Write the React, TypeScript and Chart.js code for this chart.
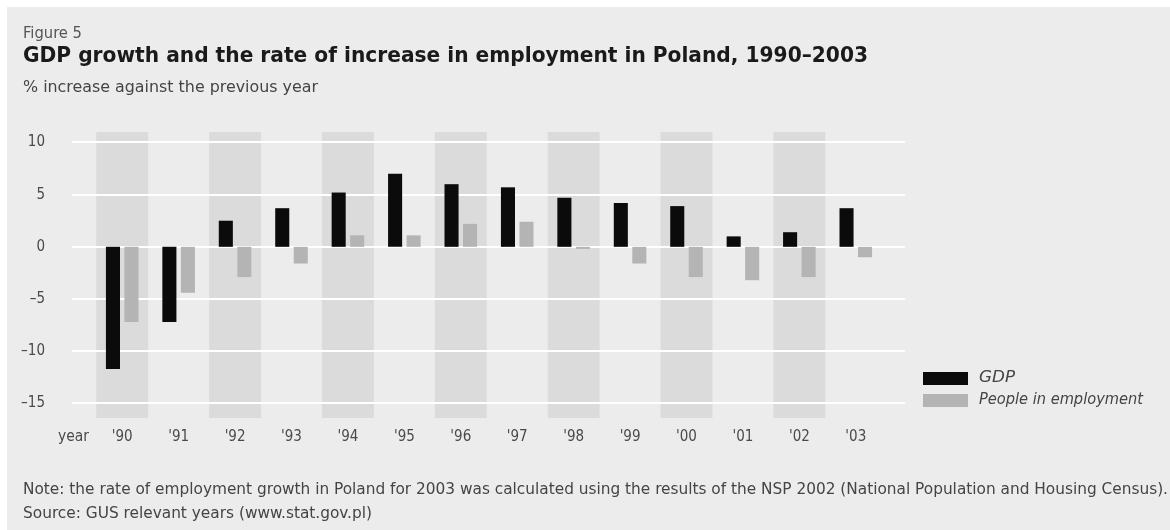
import React, { useEffect, useLayoutEffect, useRef } from 'react';
import { Chart, registerables } from 'chart.js';

Chart.register(...registerables);

const categories = ["'90", "'91", "'92", "'93", "'94", "'95", "'96", "'97", "'98", "'99", "'00", "'01", "'02", "'03"];
const gdpValues = [-11.7, -7.2, 2.5, 3.7, 5.2, 7.0, 6.0, 5.7, 4.7, 4.2, 3.9, 1.0, 1.4, 3.7];
const employmentValues = [-7.2, -4.4, -2.9, -1.6, 1.1, 1.1, 2.2, 2.4, -0.2, -1.6, -2.9, -3.2, -2.9, -1.0];
const yTickValues = [-15, -10, -5, 0, 5, 10];
const seriesLabels = ['GDP', 'People in employment'];
const seriesColors = ['#0b0b0b', '#b4b4b4'];

const FONT = "'DejaVu Sans Condensed', 'Liberation Sans Narrow', 'Arial Narrow', sans-serif";

const backdropPlugin = {
  id: 'backdrop',
  beforeDatasetsDraw(chart: any) {
    const { ctx, chartArea, scales } = chart;
    const x = scales.x;
    const y = scales.y;
    const step = x.getPixelForValue(1) - x.getPixelForValue(0);
    ctx.save();
    ctx.fillStyle = '#dbdbdb';
    categories.forEach((_, i) => {
      if (i % 2 !== 0) return;
      const cx = x.getPixelForValue(i);
      const w = step * 0.92;
      ctx.fillRect(cx - w / 2, chartArea.top, w, chartArea.bottom - chartArea.top);
    });
    ctx.strokeStyle = '#ffffff';
    ctx.lineWidth = 2;
    yTickValues.forEach((v) => {
      const py = Math.round(y.getPixelForValue(v));
      ctx.beginPath();
      ctx.moveTo(chartArea.left - step * 0.39, py);
      ctx.lineTo(chartArea.right + step * 0.37, py);
      ctx.stroke();
    });
    ctx.restore();
  },
};

function FitText(props: { text: string; left: number; top: number; width: number; style?: any }) {
  const ref = useRef<HTMLSpanElement>(null);
  useLayoutEffect(() => {
    const el = ref.current;
    if (!el) return;
    el.style.transform = 'none';
    const w = el.getBoundingClientRect().width;
    if (w > 0) el.style.transform = `scaleX(${props.width / w})`;
  }, [props.text, props.width]);
  return (
    <span
      ref={ref}
      style={{
        position: 'absolute',
        left: props.left,
        top: props.top,
        whiteSpace: 'nowrap',
        transformOrigin: '0 0',
        lineHeight: 1,
        fontFamily: FONT,
        ...props.style,
      }}
    >
      {props.text}
    </span>
  );
}

export default function App() {
  const canvasRef = useRef<HTMLCanvasElement>(null);

  useEffect(() => {
    if (!canvasRef.current) return;
    const chart = new Chart(canvasRef.current, {
      type: 'bar',
      data: {
        labels: categories,
        datasets: [
          {
            label: seriesLabels[0],
            data: gdpValues,
            backgroundColor: seriesColors[0],
            categoryPercentage: 0.656,
            barPercentage: 0.76,
          },
          {
            label: seriesLabels[1],
            data: employmentValues,
            backgroundColor: seriesColors[1],
            categoryPercentage: 0.656,
            barPercentage: 0.76,
          },
        ],
      },
      options: {
        responsive: false,
        animation: false,
        layout: { padding: { top: 132, right: 286, left: 0, bottom: 0 } },
        plugins: { legend: { display: false }, tooltip: { enabled: false } },
        scales: {
          x: {
            grid: { display: false, drawTicks: false },
            border: { display: false },
            ticks: { color: '#4a4a4a', font: { family: FONT, size: 15 }, padding: 10 },
            afterFit: (s: any) => {
              s.height = 112;
            },
          },
          y: {
            min: -16.4,
            max: 11,
            grid: { display: false, drawTicks: false },
            border: { display: false },
            afterBuildTicks: (s: any) => {
              s.ticks = yTickValues.map((v) => ({ value: v }));
            },
            ticks: {
              color: '#4a4a4a',
              font: { family: FONT, size: 15 },
              padding: 49,
              callback: (v: any) => (Number(v) < 0 ? '\u2013' + Math.abs(Number(v)) : String(v)),
            },
            afterFit: (s: any) => {
              s.width = 94;
            },
          },
        },
      },
      plugins: [backdropPlugin],
    });
    return () => chart.destroy();
  }, []);

  return (
    <div style={{ position: 'absolute', left: 0, top: 0, width: 1170, height: 530, background: '#ffffff', overflow: 'hidden' }}>
      <div style={{ position: 'absolute', left: 7, top: 7, width: 1163, height: 523, background: '#ececec' }} />
      <canvas ref={canvasRef} width={1170} height={530} style={{ position: 'absolute', left: 0, top: 0 }} />
      <FitText text="Figure 5" left={23} top={26} width={59} style={{ fontSize: 15, color: '#555' }} />
      <FitText
        text="GDP growth and the rate of increase in employment in Poland, 1990–2003"
        left={23}
        top={45}
        width={845}
        style={{ fontSize: 21, fontWeight: 'bold', color: '#1a1a1a' }}
      />
      <FitText text="% increase against the previous year" left={23} top={80} width={295} style={{ fontSize: 15, color: '#444' }} />
      <FitText text="year" left={58} top={429} width={31} style={{ fontSize: 15, color: '#4a4a4a' }} />
      <div style={{ position: 'absolute', left: 923, top: 372, width: 45, height: 13, background: seriesColors[0] }} />
      <div style={{ position: 'absolute', left: 923, top: 394, width: 45, height: 13, background: seriesColors[1] }} />
      <FitText text={seriesLabels[0]} left={979} top={370} width={36} style={{ fontSize: 15, fontStyle: 'italic', color: '#444' }} />
      <FitText text={seriesLabels[1]} left={979} top={392} width={164} style={{ fontSize: 15, fontStyle: 'italic', color: '#444' }} />
      <FitText
        text="Note: the rate of employment growth in Poland for 2003 was calculated using the results of the NSP 2002 (National Population and Housing Census)."
        left={23}
        top={481}
        width={1145}
        style={{ fontSize: 16, color: '#444' }}
      />
      <FitText text="Source: GUS relevant years (www.stat.gov.pl)" left={23} top={505} width={349} style={{ fontSize: 16, color: '#444' }} />
    </div>
  );
}
